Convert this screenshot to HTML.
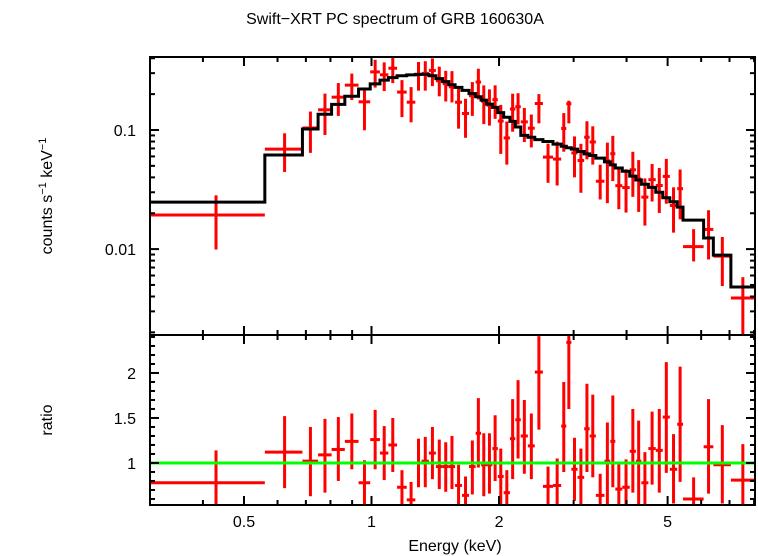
<!DOCTYPE html>
<html><head><meta charset="utf-8"><style>
html,body{margin:0;padding:0;background:#fff;}
svg{display:block;font-family:"Liberation Sans",sans-serif;}
</style></head><body>
<svg id="chart" width="758" height="556" viewBox="0 0 758 556">
<text x="395" y="24" text-anchor="middle" font-size="16">Swift−XRT PC spectrum of GRB 160630A</text>
<text transform="translate(52,196) rotate(-90)" text-anchor="middle" font-size="16">counts s<tspan font-size="11" dy="-6">−1</tspan><tspan dy="6"> keV</tspan><tspan font-size="11" dy="-6">−1</tspan></text>
<text transform="translate(52,420) rotate(-90)" text-anchor="middle" font-size="16">ratio</text>
<text x="455" y="551" text-anchor="middle" font-size="16">Energy (keV)</text>
<g id="layer"></g>
</svg>
<script>
const binLo=[0.299,0.560,0.687,0.748,0.805,0.865,0.932,0.993,1.047,1.096,1.149,1.211,1.269,1.313,1.366,1.419,1.472,1.522,1.575,1.635,1.699,1.761,1.814,1.868,1.929,1.987,2.051,2.122,2.185,2.251,2.339,2.429,2.539,2.682,2.804,2.883,2.963,3.065,3.177,3.273,3.385,3.547,3.661,3.763,3.908,4.069,4.209,4.335,4.504,4.688,4.870,5.060,5.267,5.437,6.081,6.411,7.052];
const binHi=[0.560,0.687,0.748,0.805,0.865,0.932,0.993,1.047,1.096,1.149,1.211,1.269,1.313,1.366,1.419,1.472,1.522,1.575,1.635,1.699,1.761,1.814,1.868,1.929,1.987,2.051,2.122,2.185,2.251,2.339,2.429,2.539,2.682,2.804,2.883,2.963,3.065,3.177,3.273,3.385,3.547,3.661,3.763,3.908,4.069,4.209,4.335,4.504,4.688,4.870,5.060,5.267,5.437,6.081,6.411,7.052,8.0];
const modelVals=[0.0248,0.0617,0.102,0.1355,0.164,0.192,0.221,0.244,0.262,0.275,0.285,0.29,0.293,0.293,0.285,0.27,0.255,0.24,0.228,0.215,0.202,0.19,0.178,0.165,0.155,0.14,0.128,0.118,0.106,0.09,0.087,0.083,0.08,0.076,0.073,0.071,0.069,0.066,0.063,0.061,0.058,0.054,0.051,0.048,0.045,0.041,0.038,0.035,0.033,0.030,0.027,0.025,0.0225,0.0175,0.0124,0.0089,0.0048];
const ratioVals=[0.78,1.12,1.02,1.09,1.15,1.24,0.78,1.26,1.11,1.20,0.73,0.59,1.00,1.02,1.11,0.96,0.96,0.96,0.75,0.64,0.96,1.33,0.98,0.98,1.16,0.85,0.67,1.27,1.48,1.30,1.19,2.01,0.74,0.75,1.41,2.34,0.93,0.84,1.38,1.30,0.64,1.02,1.24,0.71,0.73,1.13,1.02,0.78,1.16,1.14,1.51,0.93,1.43,0.60,1.18,0.98,0.81];
const ratioHi=[1.14,1.52,1.40,1.49,1.51,1.55,1.03,1.59,1.41,1.50,0.92,0.79,1.27,1.29,1.40,1.26,1.23,1.30,0.98,0.85,1.25,1.72,1.33,1.33,1.53,1.16,0.92,1.71,1.92,1.70,1.55,2.41,0.96,1.05,1.90,2.48,1.28,1.16,1.88,1.76,0.88,1.45,1.75,1.01,1.04,1.60,1.47,1.12,1.57,1.60,2.12,1.32,2.07,0.84,1.71,1.42,1.21];
const ratioLo=[0.40,0.72,0.63,0.67,0.80,0.93,0.45,0.93,0.81,0.90,0.45,0.40,0.73,0.73,0.82,0.71,0.68,0.71,0.45,0.40,0.65,0.95,0.63,0.66,0.80,0.45,0.40,0.82,1.05,0.88,0.82,1.37,0.45,0.45,0.90,1.60,0.58,0.45,0.90,0.84,0.45,0.45,0.73,0.45,0.45,0.67,0.54,0.45,0.76,0.67,0.89,0.55,0.79,0.45,0.66,0.55,0.40];
const xTickVals=[0.5,1,2,5];
const xTickLabels=["0.5","1","2","5"];
const xMinorVals=[0.3,0.4,0.6,0.7,0.8,0.9,3,4,6,7,8];
const yTopTickVals=[0.01,0.1];
const yTopTickLabels=["0.01","0.1"];
const yBotTickVals=[1,1.5,2];
const yBotTickLabels=["1","1.5","2"];

const X0=150,X1=755,T0=57,T1=335,B0=335,B1=505;
const EMIN=0.3,EMAX=8.04,YTMIN=0.0019,YTMAX=0.41,RMIN=0.533,RMAX=2.422;
const xs=e=>X0+(X1-X0)*(Math.log10(e)-Math.log10(EMIN))/(Math.log10(EMAX)-Math.log10(EMIN));
const yt=v=>T1-(T1-T0)*(Math.log10(v)-Math.log10(YTMIN))/(Math.log10(YTMAX)-Math.log10(YTMIN));
const yb=v=>B1-(B1-B0)*(v-RMIN)/(RMAX-RMIN);
const NS="http://www.w3.org/2000/svg";
const layer=document.getElementById('layer');
function mk(tag,attrs,parent){const el=document.createElementNS(NS,tag);for(const k in attrs)el.setAttribute(k,attrs[k]);(parent||layer).appendChild(el);return el;}
const defs=mk('defs',{});
const c1=mk('clipPath',{id:'clipTop'},defs);mk('rect',{x:X0,y:T0,width:X1-X0,height:T1-T0},c1);
const c2=mk('clipPath',{id:'clipBot'},defs);mk('rect',{x:X0,y:B0,width:X1-X0,height:B1-B0},c2);
const gTop=mk('g',{'clip-path':'url(#clipTop)'});


const gBot=mk('g',{'clip-path':'url(#clipBot)'});



for(let i=0;i<binLo.length;i++){
  const m=modelVals[i];
  const xa=xs(binLo[i]),xb=xs(binHi[i]),xc=xs((binLo[i]+binHi[i])/2);
  const g=mk('g',{stroke:'#ff0000','stroke-width':3},gTop);
  
  
  mk('line',{x1:xa,x2:xb,y1:yt(m*ratioVals[i]),y2:yt(m*ratioVals[i])},g);
  mk('line',{x1:xc,x2:xc,y1:yt(m*ratioHi[i]),y2:yt(m*ratioLo[i])},g);
  const g2=mk('g',{stroke:'#ff0000','stroke-width':3},gBot);
  
  
  mk('line',{x1:xa,x2:xb,y1:yb(ratioVals[i]),y2:yb(ratioVals[i])},g2);
  mk('line',{x1:xc,x2:xc,y1:yb(ratioHi[i]),y2:yb(ratioLo[i])},g2);
}
let d='M'+X0+','+yt(modelVals[0]);
for(let i=0;i<binLo.length;i++){
  const xa=i===0?X0:xs(binLo[i]);const xb=i===binLo.length-1?X1:xs(binHi[i]);
  d+=' L'+xa+','+yt(modelVals[i])+' L'+xb+','+yt(modelVals[i]);
}
const model=mk('path',{d:d,fill:'none',stroke:'#000','stroke-width':3},gTop);


const unity=mk('line',{x1:X0,x2:X1,y1:yb(1),y2:yb(1),stroke:'#00ff00','stroke-width':3},gBot);



const f1=mk('rect',{x:X0,y:T0,width:X1-X0,height:T1-T0,fill:'none',stroke:'#000','stroke-width':2});


const f2=mk('rect',{x:X0,y:B0,width:X1-X0,height:B1-B0,fill:'none',stroke:'#000','stroke-width':2});



const ticks=mk('g',{stroke:'#000','stroke-width':2});


function xtick(e,len){const x=xs(e);
  mk('line',{x1:x,x2:x,y1:T0,y2:T0+len},ticks);mk('line',{x1:x,x2:x,y1:T1,y2:T1-len},ticks);
  mk('line',{x1:x,x2:x,y1:B0,y2:B0+len},ticks);mk('line',{x1:x,x2:x,y1:B1,y2:B1-len},ticks);}
xTickVals.forEach(e=>xtick(e,9));
xMinorVals.forEach(e=>xtick(e,5));
xTickVals.forEach((e,i)=>{const t=mk('text',{x:xs(e),y:527,'text-anchor':'middle','font-size':16});t.textContent=xTickLabels[i];
  });
function ytickTop(v,len){const y=yt(v);mk('line',{x1:X0,x2:X0+len,y1:y,y2:y},ticks);mk('line',{x1:X1,x2:X1-len,y1:y,y2:y},ticks);}
for(let dec=0.001;dec<1;dec*=10){for(let k=1;k<10;k++){const v=dec*k;if(v>YTMIN&&v<YTMAX)ytickTop(v,k===1?9:5);}}
yTopTickVals.forEach((v,i)=>{const t=mk('text',{x:136,y:yt(v)+6,'text-anchor':'end','font-size':16});t.textContent=yTopTickLabels[i];
  });
for(let k=6;k<=24;k++){const v=k/10;const y=yb(v);const len=(k%5===0)?9:5;
  mk('line',{x1:X0,x2:X0+len,y1:y,y2:y},ticks);mk('line',{x1:X1,x2:X1-len,y1:y,y2:y},ticks);}
yBotTickVals.forEach((v,i)=>{const t=mk('text',{x:136,y:yb(v)+6,'text-anchor':'end','font-size':16});t.textContent=yBotTickLabels[i];
  });
</script>
</body></html>
